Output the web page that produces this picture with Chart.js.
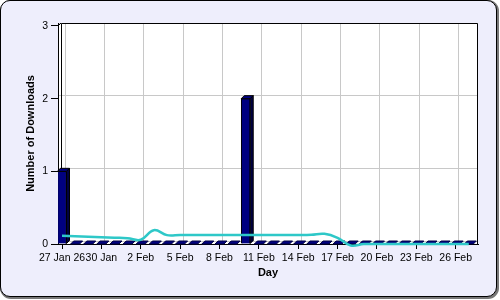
<!DOCTYPE html>
<html>
<head>
<meta charset="utf-8">
<script src="https://cdn.jsdelivr.net/npm/chart.js@4"></script>
<style>
  body { margin: 0; background: #fff; }
  #frame {
    position: absolute; left: 0; top: 0; width: 497px; height: 297px;
    box-sizing: border-box; border: 1px solid #000; border-radius: 10px;
    background: #eeeefc; box-shadow: 1px 1px 0 1px #777;
  }
  #c { position: absolute; left: 0; top: 0; }
</style>
</head>
<body>
<div id="frame"></div>
<canvas id="c" width="500" height="300"></canvas>
<script>
// --- DATOS ---
const dayIndex = [0, 1, 2, 3, 4, 5, 6, 7, 8, 9, 10, 11, 12, 13, 14, 15,
                  16, 17, 18, 19, 20, 21, 22, 23, 24, 25, 26, 27, 28, 29, 30, 31];
const downloads = [1, 0, 0, 0, 0, 0, 0, 0, 0, 0, 0, 0, 0, 0, 2, 0,
                   0, 0, 0, 0, 0, 0, 0, 0, 0, 0, 0, 0, 0, 0, 0, 0];
const trend = [0.115, 0.108, 0.1, 0.092, 0.086, 0.08, 0.058, 0.19, 0.122, 0.125, 0.125, 0.125, 0.125, 0.125, 0.125, 0.125,
               0.125, 0.125, 0.125, 0.128, 0.14, 0.085, -0.02, 0, 0, 0, 0, 0, 0, 0, 0, 0];
const tickDays = [0, 3, 6, 9, 12, 15, 18, 21, 24, 27, 30];
const tickLabels = ['27 Jan 26', '30 Jan', '2 Feb', '5 Feb', '8 Feb', '11 Feb',
                    '14 Feb', '17 Feb', '20 Feb', '23 Feb', '26 Feb'];
const yTicks = [0, 1, 2, 3];

// --- EFECTO 3D ---
const depth = 3;
const xMin = -0.305, xMax = 31.7, yMax = 3.041;
const gridShiftX = 0.229, gridShiftY = 0.041;

const wall3d = {
    id: 'wall3d',
    beforeDraw(chart) {
        const { ctx, chartArea: a } = chart;
        ctx.save();
        ctx.fillStyle = '#fff';
        ctx.fillRect(a.left, a.top, a.right - a.left, a.bottom - a.top);
        ctx.restore();
    },
    beforeDatasetsDraw(chart) {
        const { ctx, chartArea: a } = chart;
        ctx.save();
        ctx.strokeStyle = '#000';
        ctx.lineWidth = 1;
        ctx.beginPath();
        ctx.moveTo(a.left + depth + 0.5, a.bottom - depth);
        ctx.lineTo(a.left + depth + 0.5, a.top + 0.5);
        ctx.lineTo(a.right - 0.5, a.top + 0.5);
        ctx.lineTo(a.right - 0.5, a.bottom);
        ctx.moveTo(a.left, a.top + depth);
        ctx.lineTo(a.left + depth, a.top);
        ctx.stroke();
        ctx.restore();
    }
};

const bar3d = {
    id: 'bar3d',
    afterDatasetDraw(chart, args) {
        if (args.index !== 0) return;
        const ctx = chart.ctx;
        ctx.save();
        ctx.lineWidth = 1;
        args.meta.data.forEach(bar => {
            const { x, y, base, width } = bar.getProps(['x', 'y', 'base', 'width']);
            const l = x - width / 2, r = x + width / 2;
            const flat = base - y <= 0.5;
            ctx.strokeStyle = flat ? '#000040' : '#000';
            ctx.beginPath();
            ctx.moveTo(l, y);
            ctx.lineTo(l + depth, y - depth);
            ctx.lineTo(r + depth, y - depth);
            ctx.lineTo(r, y);
            ctx.closePath();
            ctx.fillStyle = '#000080';
            ctx.fill();
            ctx.stroke();
            if (!flat) {
                ctx.beginPath();
                ctx.moveTo(r, y);
                ctx.lineTo(r + depth, y - depth);
                ctx.lineTo(r + depth, base - depth);
                ctx.lineTo(r, base);
                ctx.closePath();
                ctx.fillStyle = '#000040';
                ctx.fill();
                ctx.stroke();
            }
        });
        ctx.restore();
    }
};

const tickFont = { family: "'Liberation Sans', Arial, sans-serif", size: 10.5 };
const titleFont = { family: "'Liberation Sans', Arial, sans-serif", size: 11, weight: 'bold' };

new Chart(document.getElementById('c'), {
    data: {
        datasets: [{
            type: 'bar',
            xAxisID: 'x',
            yAxisID: 'y',
            data: dayIndex.map((d, i) => ({ x: d, y: downloads[i] })),
            backgroundColor: '#000080',
            borderColor: '#000',
            borderWidth: 1,
            barThickness: 9,
            grouped: false,
            order: 1
        }, {
            type: 'line',
            xAxisID: 'x',
            yAxisID: 'y',
            data: dayIndex.map((d, i) => ({ x: d, y: trend[i] })),
            borderColor: '#2ec8c8',
            borderWidth: 2.5,
            pointRadius: 0,
            tension: 0.4,
            clip: 6,
            order: 0
        }]
    },
    options: {
        responsive: false,
        animation: false,
        layout: { padding: { left: 24.4, right: 22, top: 23, bottom: 20 } },
        plugins: { legend: { display: false }, tooltip: { enabled: false } },
        scales: {
            x: {
                type: 'linear', position: 'bottom', min: xMin, max: xMax, offset: false,
                afterBuildTicks: s => { s.ticks = tickDays.map(v => ({ value: v })); },
                afterFit: s => { s.height = 36; },
                ticks: {
                    autoSkip: false, maxRotation: 0, color: '#000', font: tickFont, padding: 3,
                    callback: (v, i) => tickLabels[i]
                },
                grid: { offset: false, drawOnChartArea: false, drawTicks: true, tickLength: 5, tickColor: '#000' },
                border: { color: '#000' },
                title: { display: true, text: 'Day', color: '#000', font: titleFont, padding: 0 }
            },
            xg: {
                type: 'linear', position: 'bottom', min: xMin - gridShiftX, max: xMax - gridShiftX, offset: false,
                afterBuildTicks: s => { s.ticks = tickDays.map(v => ({ value: v })); },
                afterFit: s => { s.height = 0; },
                ticks: { display: false },
                grid: { offset: false, color: '#c8c8c8', drawTicks: false },
                border: { display: false }
            },
            y: {
                type: 'linear', position: 'left', min: 0, max: yMax,
                afterBuildTicks: s => { s.ticks = yTicks.map(v => ({ value: v })); },
                afterFit: s => { s.width = 33.6; },
                ticks: { color: '#000', font: tickFont, padding: 3 },
                grid: { drawOnChartArea: false, drawTicks: true, tickLength: 7, tickColor: '#000' },
                border: { color: '#000' },
                title: { display: true, text: 'Number of Downloads', color: '#000', font: titleFont, padding: 0 }
            },
            yg: {
                type: 'linear', position: 'left', min: -gridShiftY, max: yMax - gridShiftY,
                afterBuildTicks: s => { s.ticks = yTicks.map(v => ({ value: v })); },
                afterFit: s => { s.width = 0; },
                ticks: { display: false },
                grid: { color: '#c8c8c8', drawTicks: false },
                border: { display: false }
            }
        }
    },
    plugins: [wall3d, bar3d]
});
</script>
</body>
</html>
